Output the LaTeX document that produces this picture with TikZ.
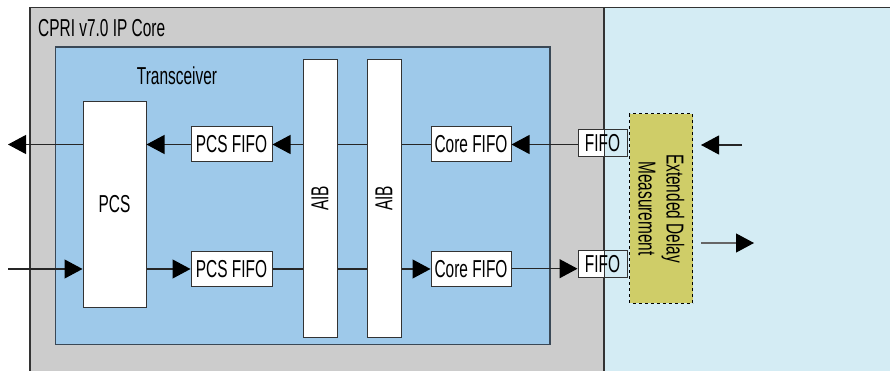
\documentclass[tikz,border=0pt]{standalone}
\usepackage{fontspec}
\setmainfont[FakeStretch=0.63]{Liberation Sans}
\usetikzlibrary{arrows.meta}
\definecolor{coregray}{HTML}{CCCCCC}
\definecolor{xcvrblue}{HTML}{9EC9EA}
\definecolor{extblue}{HTML}{D4ECF4}
\definecolor{olive}{HTML}{CFCD68}
\definecolor{edge}{HTML}{333333}
\definecolor{xedge}{HTML}{3A4856}
\tikzset{
  every node/.style={font=\fontsize{24.5}{28}\selectfont, inner sep=0pt},
  whitebox/.style={draw=edge, line width=1pt, fill=white, align=center},
  fifobox/.style={draw=edge, line width=1pt, minimum width=49pt, minimum height=27pt,
    path picture={\fill[white] (path picture bounding box.south west) rectangle ([xshift=26pt]path picture bounding box.north west);}},
  conn/.style={draw=black!85, line width=1.1pt, -{Triangle[length=18pt,width=19pt,color=black]}},
}
\begin{document}
\begin{tikzpicture}[x=1pt,y=-1pt]
\useasboundingbox (0,0) rectangle (890,371);
% regions
\fill[coregray] (30,7.5) rectangle (604,375);
\fill[extblue] (604,7.5) rectangle (892,375);
\draw[edge, line width=1.2pt] (30,375) -- (30,7.5) -- (892,7.5);
\draw[edge, line width=1.2pt] (604,7.5) -- (604,375);
\node[anchor=base west] (title) at (38,36.5) {CPRI v7.0 IP Core};
% transceiver
\draw[xedge, line width=1.4pt, fill=xcvrblue] (55.5,47) rectangle (550,344.5);
\node[anchor=base] (xcvr) at (177,84.5) {Transceiver};
% blocks
\node[whitebox, minimum width=63pt, minimum height=205pt] (pcs) at (114.5,204.5) {PCS};
\node[whitebox, minimum width=81pt, minimum height=35pt] (pf1) at (231.5,144.5) {PCS FIFO};
\node[whitebox, minimum width=81pt, minimum height=35pt] (pf2) at (231.5,269) {PCS FIFO};
\node[whitebox, minimum width=80pt, minimum height=35pt] (cf1) at (471,144.5) {Core FIFO};
\node[whitebox, minimum width=80pt, minimum height=35pt] (cf2) at (471,268.7) {Core FIFO};
\node[fifobox] (f1) at (602.5,143) {FIFO};
\node[fifobox] (f2) at (602.5,264) {FIFO};
\node[draw=black, dashed, line width=1pt, fill=olive, rotate=-90, align=center,
      minimum width=189pt, minimum height=63pt] (edm) at (661.3,208.5) {Extended Delay\\Measurement};
% free ends
\coordinate (outL) at (8,144.5);
\coordinate (inL) at (8,269);
\coordinate (inR) at (742,145);
\coordinate (inRtip) at (701,145);
\coordinate (outR) at (701,243);
\coordinate (outRtip) at (754,243);
% connectors
\draw[conn] (pcs.west |- pf1) -- (outL);
\draw[conn] (pf1.west) -- (pf1.west -| pcs.east);
\draw[conn] (cf1.west) -- (pf1.east);
\draw[conn] (cf1.east -| f1.west) -- (cf1.east);
\draw[conn] (inL) -- (pcs.west |- inL);
\draw[conn] (pf2.west -| pcs.east) -- (pf2.west);
\draw[conn] (pf2.east) -- (pf2.east -| cf2.west);
\draw[conn] (cf2.east) -- (cf2.east -| f2.west);
\draw[conn] (inR) -- (inRtip);
\draw[conn, draw=black!60] (outR) -- (outRtip);
% AIB blocks over the lines
\node[whitebox, rotate=90, minimum width=277pt, minimum height=34pt] (aib1) at (320,198.5) {AIB};
\node[whitebox, rotate=90, minimum width=277pt, minimum height=34pt] (aib2) at (384,198.5) {AIB};
\end{tikzpicture}
\end{document}
